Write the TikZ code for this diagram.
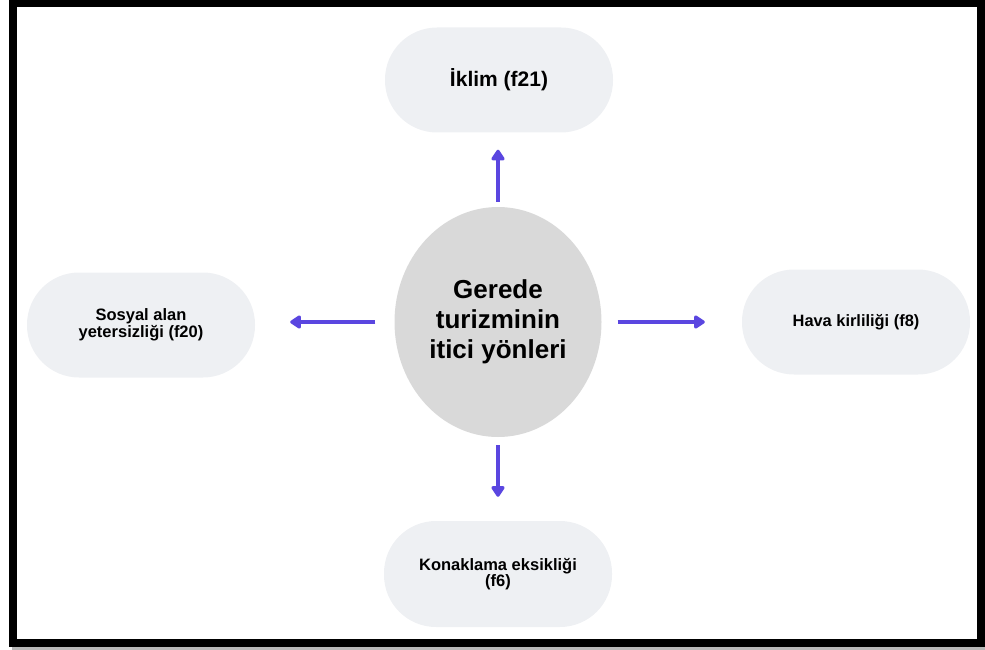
\documentclass[tikz,border=0pt]{standalone}
\usepackage{fontspec}
\setmainfont{Liberation Sans}
\usetikzlibrary{arrows.meta,shapes.geometric}
\definecolor{pillgray}{HTML}{EEF0F3}
\definecolor{midgray}{HTML}{D9D9D9}
\definecolor{arrowblue}{HTML}{5A46E0}
\tikzset{
	pill/.style={rectangle,fill=pillgray,rounded corners=52pt,minimum width=228pt,minimum height=105pt,align=center,font=\bfseries},
	arr/.style={arrowblue,line width=4pt,-{Triangle[width=15pt,length=12pt,round]}}
}
\begin{document}
\begin{tikzpicture}[x=1pt,y=-1pt]
			\useasboundingbox (0,0) rectangle (985,650);
			\fill[gray!55] (12,646) rectangle (985,650);
			\draw[line width=8pt] (13,3) rectangle (981,643);
			\node[ellipse,fill=midgray,minimum width=207pt,minimum height=230pt,inner sep=0pt,align=center,font=\bfseries\fontsize{26}{30}\selectfont] (center) at (498,322) {Gerede\\turizminin\\itici yönleri};
			\node[pill,font=\bfseries\fontsize{21}{24}\selectfont] (iklim) at (499,80) {İklim (f21)};
			\node[pill,font=\bfseries\fontsize{16.5}{17}\selectfont] (sosyal) at (141,325) {Sosyal alan\\yetersizliği (f20)};
			\node[pill,font=\bfseries\fontsize{16.4}{18}\selectfont] (hava) at (856,322) {Hava kirliliği (f8)};
			\node[pill,minimum height=106pt,font=\bfseries\fontsize{16.5}{16.5}\selectfont] (konak) at (498,574) {Konaklama eksikliği\\(f6)};
			\draw[arr,shorten <=5pt,shorten >=17pt] (center.north) -- (center.north |- iklim.south);
			\draw[arr,shorten <=19pt,shorten >=35pt] (center.west) -- (center.west -| sosyal.east);
			\draw[arr,shorten <=16pt,shorten >=37pt] (center.east) -- (center.east -| hava.west);
			\draw[arr,shorten <=8pt,shorten >=24pt] (center.south) -- (center.south |- konak.north);
	\end{tikzpicture}
\end{document}
